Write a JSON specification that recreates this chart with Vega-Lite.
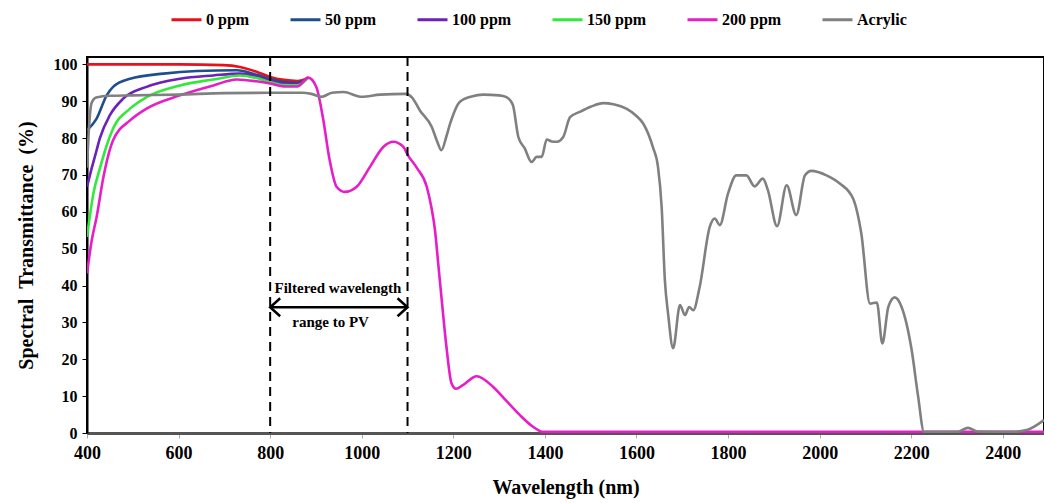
{
  "$schema": "https://vega.github.io/schema/vega-lite/v6.json",
  "width": 957,
  "height": 376,
  "autosize": {"type": "none"},
  "padding": {"left": 87, "top": 57, "right": 0, "bottom": 70},
  "background": "white",
  "config": {
    "view": {"stroke": "black", "strokeWidth": 2},
    "font": "Liberation Serif",
    "axis": {"labelFont": "Liberation Serif", "titleFont": "Liberation Serif"},
    "axisY": {"tickCount": 11, "labelOverlap": false},
    "axisX": {"labelFlush": false, "labelOverlap": false},
    "legend": {"labelFont": "Liberation Serif"},
    "text": {"font": "Liberation Serif"}
  },
  "datasets": {
    "curves": [
      {"series": "0 ppm", "nm": 400, "T": 100},
      {"series": "0 ppm", "nm": 600, "T": 100},
      {"series": "0 ppm", "nm": 697, "T": 99.8},
      {"series": "0 ppm", "nm": 734, "T": 99.3},
      {"series": "0 ppm", "nm": 770, "T": 98},
      {"series": "0 ppm", "nm": 800, "T": 96.6},
      {"series": "0 ppm", "nm": 830, "T": 95.8},
      {"series": "0 ppm", "nm": 860, "T": 95.5},
      {"series": "0 ppm", "nm": 883, "T": 96.4},
      {"series": "50 ppm", "nm": 400, "T": 82.1},
      {"series": "50 ppm", "nm": 421, "T": 85.3},
      {"series": "50 ppm", "nm": 443, "T": 91.6},
      {"series": "50 ppm", "nm": 457, "T": 93.9},
      {"series": "50 ppm", "nm": 494, "T": 96.1},
      {"series": "50 ppm", "nm": 567, "T": 97.5},
      {"series": "50 ppm", "nm": 640, "T": 98.2},
      {"series": "50 ppm", "nm": 727, "T": 98.4},
      {"series": "50 ppm", "nm": 770, "T": 97.2},
      {"series": "50 ppm", "nm": 800, "T": 96},
      {"series": "50 ppm", "nm": 830, "T": 95.2},
      {"series": "50 ppm", "nm": 860, "T": 95},
      {"series": "50 ppm", "nm": 883, "T": 96.4},
      {"series": "100 ppm", "nm": 400, "T": 66.8},
      {"series": "100 ppm", "nm": 410, "T": 71.7},
      {"series": "100 ppm", "nm": 421, "T": 76.7},
      {"series": "100 ppm", "nm": 428, "T": 79.9},
      {"series": "100 ppm", "nm": 450, "T": 86.2},
      {"series": "100 ppm", "nm": 479, "T": 90.7},
      {"series": "100 ppm", "nm": 530, "T": 93.9},
      {"series": "100 ppm", "nm": 603, "T": 96.1},
      {"series": "100 ppm", "nm": 676, "T": 97},
      {"series": "100 ppm", "nm": 734, "T": 97.5},
      {"series": "100 ppm", "nm": 770, "T": 96.8},
      {"series": "100 ppm", "nm": 800, "T": 95.6},
      {"series": "100 ppm", "nm": 830, "T": 94.8},
      {"series": "100 ppm", "nm": 860, "T": 94.6},
      {"series": "100 ppm", "nm": 883, "T": 96.4},
      {"series": "150 ppm", "nm": 400, "T": 53.2},
      {"series": "150 ppm", "nm": 414, "T": 65},
      {"series": "150 ppm", "nm": 428, "T": 71.7},
      {"series": "150 ppm", "nm": 443, "T": 78},
      {"series": "150 ppm", "nm": 457, "T": 82.6},
      {"series": "150 ppm", "nm": 494, "T": 88},
      {"series": "150 ppm", "nm": 530, "T": 91.1},
      {"series": "150 ppm", "nm": 603, "T": 94.3},
      {"series": "150 ppm", "nm": 676, "T": 95.9},
      {"series": "150 ppm", "nm": 734, "T": 97},
      {"series": "150 ppm", "nm": 770, "T": 96.3},
      {"series": "150 ppm", "nm": 800, "T": 95.2},
      {"series": "150 ppm", "nm": 830, "T": 94.4},
      {"series": "150 ppm", "nm": 860, "T": 94.3},
      {"series": "150 ppm", "nm": 883, "T": 96.4},
      {"series": "200 ppm", "nm": 400, "T": 43.3},
      {"series": "200 ppm", "nm": 410, "T": 52},
      {"series": "200 ppm", "nm": 421, "T": 58.6},
      {"series": "200 ppm", "nm": 436, "T": 69.5},
      {"series": "200 ppm", "nm": 457, "T": 79.4},
      {"series": "200 ppm", "nm": 494, "T": 84.8},
      {"series": "200 ppm", "nm": 530, "T": 88},
      {"series": "200 ppm", "nm": 603, "T": 91.6},
      {"series": "200 ppm", "nm": 676, "T": 94.3},
      {"series": "200 ppm", "nm": 727, "T": 95.9},
      {"series": "200 ppm", "nm": 770, "T": 95.4},
      {"series": "200 ppm", "nm": 800, "T": 94.8},
      {"series": "200 ppm", "nm": 830, "T": 94},
      {"series": "200 ppm", "nm": 860, "T": 94},
      {"series": "200 ppm", "nm": 883, "T": 96.4},
      {"series": "200 ppm", "nm": 901, "T": 93.8},
      {"series": "200 ppm", "nm": 915, "T": 85.7},
      {"series": "200 ppm", "nm": 930, "T": 74},
      {"series": "200 ppm", "nm": 945, "T": 66.8},
      {"series": "200 ppm", "nm": 963, "T": 65.4},
      {"series": "200 ppm", "nm": 989, "T": 66.8},
      {"series": "200 ppm", "nm": 1018, "T": 72.2},
      {"series": "200 ppm", "nm": 1047, "T": 77.6},
      {"series": "200 ppm", "nm": 1069, "T": 79},
      {"series": "200 ppm", "nm": 1091, "T": 77.6},
      {"series": "200 ppm", "nm": 1101, "T": 75.3},
      {"series": "200 ppm", "nm": 1120, "T": 72},
      {"series": "200 ppm", "nm": 1142, "T": 66.8},
      {"series": "200 ppm", "nm": 1152, "T": 61.3},
      {"series": "200 ppm", "nm": 1160, "T": 55},
      {"series": "200 ppm", "nm": 1167, "T": 46},
      {"series": "200 ppm", "nm": 1174, "T": 37},
      {"series": "200 ppm", "nm": 1185, "T": 23.4},
      {"series": "200 ppm", "nm": 1196, "T": 13.5},
      {"series": "200 ppm", "nm": 1206, "T": 12},
      {"series": "200 ppm", "nm": 1221, "T": 13},
      {"series": "200 ppm", "nm": 1251, "T": 15.4},
      {"series": "200 ppm", "nm": 1287, "T": 12.5},
      {"series": "200 ppm", "nm": 1316, "T": 8.7},
      {"series": "200 ppm", "nm": 1345, "T": 4.9},
      {"series": "200 ppm", "nm": 1374, "T": 1.7},
      {"series": "200 ppm", "nm": 1396, "T": 0.3},
      {"series": "200 ppm", "nm": 1500, "T": 0.3},
      {"series": "200 ppm", "nm": 2490, "T": 0.3},
      {"series": "Acrylic", "nm": 400, "T": 72},
      {"series": "Acrylic", "nm": 404, "T": 82},
      {"series": "Acrylic", "nm": 410, "T": 89.5},
      {"series": "Acrylic", "nm": 420, "T": 91},
      {"series": "Acrylic", "nm": 450, "T": 91.5},
      {"series": "Acrylic", "nm": 500, "T": 91.6},
      {"series": "Acrylic", "nm": 600, "T": 91.8},
      {"series": "Acrylic", "nm": 700, "T": 92.2},
      {"series": "Acrylic", "nm": 800, "T": 92.3},
      {"series": "Acrylic", "nm": 870, "T": 92.3},
      {"series": "Acrylic", "nm": 890, "T": 92},
      {"series": "Acrylic", "nm": 912, "T": 91.2},
      {"series": "Acrylic", "nm": 935, "T": 92.3},
      {"series": "Acrylic", "nm": 960, "T": 92.5},
      {"series": "Acrylic", "nm": 1000, "T": 91.2},
      {"series": "Acrylic", "nm": 1040, "T": 91.8},
      {"series": "Acrylic", "nm": 1095, "T": 92},
      {"series": "Acrylic", "nm": 1110, "T": 91},
      {"series": "Acrylic", "nm": 1127, "T": 87.5},
      {"series": "Acrylic", "nm": 1153, "T": 83},
      {"series": "Acrylic", "nm": 1165, "T": 79},
      {"series": "Acrylic", "nm": 1174, "T": 76.7},
      {"series": "Acrylic", "nm": 1185, "T": 80.5},
      {"series": "Acrylic", "nm": 1193, "T": 83.9},
      {"series": "Acrylic", "nm": 1214, "T": 89.8},
      {"series": "Acrylic", "nm": 1240, "T": 91.3},
      {"series": "Acrylic", "nm": 1265, "T": 91.8},
      {"series": "Acrylic", "nm": 1300, "T": 91.6},
      {"series": "Acrylic", "nm": 1316, "T": 91.1},
      {"series": "Acrylic", "nm": 1330, "T": 89},
      {"series": "Acrylic", "nm": 1342, "T": 80.3},
      {"series": "Acrylic", "nm": 1356, "T": 77.2},
      {"series": "Acrylic", "nm": 1371, "T": 73.5},
      {"series": "Acrylic", "nm": 1382, "T": 74.9},
      {"series": "Acrylic", "nm": 1393, "T": 74.9},
      {"series": "Acrylic", "nm": 1404, "T": 79.6},
      {"series": "Acrylic", "nm": 1415, "T": 79.1},
      {"series": "Acrylic", "nm": 1426, "T": 79},
      {"series": "Acrylic", "nm": 1440, "T": 80.3},
      {"series": "Acrylic", "nm": 1455, "T": 85.7},
      {"series": "Acrylic", "nm": 1476, "T": 87.1},
      {"series": "Acrylic", "nm": 1500, "T": 88.5},
      {"series": "Acrylic", "nm": 1527, "T": 89.5},
      {"series": "Acrylic", "nm": 1550, "T": 89.2},
      {"series": "Acrylic", "nm": 1578, "T": 88},
      {"series": "Acrylic", "nm": 1600, "T": 86},
      {"series": "Acrylic", "nm": 1615, "T": 83.9},
      {"series": "Acrylic", "nm": 1636, "T": 77.5},
      {"series": "Acrylic", "nm": 1647, "T": 72.2},
      {"series": "Acrylic", "nm": 1655, "T": 61.3},
      {"series": "Acrylic", "nm": 1662, "T": 41.5},
      {"series": "Acrylic", "nm": 1669, "T": 32.4},
      {"series": "Acrylic", "nm": 1680, "T": 23},
      {"series": "Acrylic", "nm": 1695, "T": 34.7},
      {"series": "Acrylic", "nm": 1706, "T": 32},
      {"series": "Acrylic", "nm": 1715, "T": 34.2},
      {"series": "Acrylic", "nm": 1724, "T": 33.3},
      {"series": "Acrylic", "nm": 1738, "T": 39.6},
      {"series": "Acrylic", "nm": 1760, "T": 55.9},
      {"series": "Acrylic", "nm": 1771, "T": 58.2},
      {"series": "Acrylic", "nm": 1782, "T": 56.4},
      {"series": "Acrylic", "nm": 1800, "T": 65},
      {"series": "Acrylic", "nm": 1818, "T": 69.9},
      {"series": "Acrylic", "nm": 1840, "T": 69.9},
      {"series": "Acrylic", "nm": 1858, "T": 66.9},
      {"series": "Acrylic", "nm": 1876, "T": 69},
      {"series": "Acrylic", "nm": 1887, "T": 65.9},
      {"series": "Acrylic", "nm": 1907, "T": 56.1},
      {"series": "Acrylic", "nm": 1928, "T": 67.2},
      {"series": "Acrylic", "nm": 1949, "T": 59.1},
      {"series": "Acrylic", "nm": 1968, "T": 69.9},
      {"series": "Acrylic", "nm": 1982, "T": 71.1},
      {"series": "Acrylic", "nm": 2015, "T": 69.9},
      {"series": "Acrylic", "nm": 2044, "T": 67.7},
      {"series": "Acrylic", "nm": 2073, "T": 63.6},
      {"series": "Acrylic", "nm": 2091, "T": 54.1},
      {"series": "Acrylic", "nm": 2110, "T": 35.1},
      {"series": "Acrylic", "nm": 2125, "T": 35.4},
      {"series": "Acrylic", "nm": 2137, "T": 24.3},
      {"series": "Acrylic", "nm": 2150, "T": 34.2},
      {"series": "Acrylic", "nm": 2164, "T": 36.8},
      {"series": "Acrylic", "nm": 2179, "T": 34.2},
      {"series": "Acrylic", "nm": 2201, "T": 22.5},
      {"series": "Acrylic", "nm": 2215, "T": 10},
      {"series": "Acrylic", "nm": 2228, "T": 0.3},
      {"series": "Acrylic", "nm": 2300, "T": 0.3},
      {"series": "Acrylic", "nm": 2324, "T": 1.4},
      {"series": "Acrylic", "nm": 2345, "T": 0.4},
      {"series": "Acrylic", "nm": 2420, "T": 0.3},
      {"series": "Acrylic", "nm": 2452, "T": 0.8},
      {"series": "Acrylic", "nm": 2490, "T": 3.5}
    ],
    "bounds": [{"nm": 800}, {"nm": 1100}],
    "arrow": [{"from": 800, "to": 1100, "T": 34.1}],
    "heads": [
      {"nm": 800, "T": 34.1, "side": "left"},
      {"nm": 1100, "T": 34.1, "side": "right"}
    ],
    "notes": [
      {"nm": 948, "T": 39.4, "label": "Filtered wavelength"},
      {"nm": 932, "T": 30.0, "label": "range to PV"}
    ]
  },
  "layer": [
    {
      "data": {"name": "curves"},
      "mark": {"type": "line", "interpolate": "monotone", "strokeWidth": 2.6, "clip": true},
      "encoding": {
        "x": {
          "field": "nm", "type": "quantitative",
          "scale": {"domain": [400, 2490], "nice": false, "zero": false},
          "axis": {
            "values": [400, 600, 800, 1000, 1200, 1400, 1600, 1800, 2000, 2200, 2400],
            "format": "d",
            "labelOverlap": false,
            "labelFlush": false,
            "title": "Wavelength (nm)",
            "titleFont": "Liberation Serif", "titleFontSize": 20, "titleFontWeight": "bold", "titleColor": "black",
            "titlePadding": 15,
            "labelFont": "Liberation Serif", "labelFontSize": 18, "labelFontWeight": "bold", "labelColor": "black",
            "labelPadding": 6,
            "domainColor": "#555555", "domainWidth": 3,
            "tickColor": "#aaaaaa", "tickSize": 5,
            "grid": false
          }
        },
        "y": {
          "field": "T", "type": "quantitative",
          "scale": {"domain": [0, 102], "nice": false},
          "axis": {
            "values": [0, 10, 20, 30, 40, 50, 60, 70, 80, 90, 100],
            "format": "d",
            "labelOverlap": false,
            "tickCount": 11,
            "title": "Spectral\u00a0\u00a0Transmittance\u00a0\u00a0(%)",
            "titleFont": "Liberation Serif", "titleFontSize": 20, "titleFontWeight": "bold", "titleColor": "black",
            "titlePadding": 17,
            "labelFont": "Liberation Serif", "labelFontSize": 16, "labelFontWeight": "bold", "labelColor": "black",
            "labelPadding": 5,
            "domainColor": "black", "domainWidth": 2,
            "tickColor": "black", "tickSize": 5,
            "grid": false
          }
        },
        "color": {
          "field": "series", "type": "nominal",
          "scale": {
            "domain": ["0 ppm", "50 ppm", "100 ppm", "150 ppm", "200 ppm", "Acrylic"],
            "range": ["#e8101a", "#1f4e8c", "#6a22b8", "#33e83a", "#e61ec8", "#808080"]
          },
          "legend": {
            "title": null,
            "orient": "none",
            "direction": "horizontal",
            "legendX": 83,
            "legendY": -54,
            "symbolType": "stroke",
            "symbolSize": 900,
            "symbolStrokeWidth": 3,
            "labelFont": "Liberation Serif", "labelFontSize": 16, "labelFontWeight": "bold", "labelColor": "black",
            "labelOffset": 3,
            "columnPadding": 34
          }
        },
        "order": {"field": "series"}
      }
    },
    {
      "data": {"name": "bounds"},
      "mark": {"type": "rule", "color": "black", "strokeWidth": 2, "strokeDash": [9, 6]},
      "encoding": {"x": {"field": "nm", "type": "quantitative"}}
    },
    {
      "data": {"name": "arrow"},
      "mark": {"type": "rule", "color": "black", "strokeWidth": 2.5},
      "encoding": {
        "x": {"field": "from", "type": "quantitative"},
        "x2": {"field": "to"},
        "y": {"field": "T", "type": "quantitative"}
      }
    },
    {
      "data": {"name": "heads"},
      "transform": [{"filter": "datum.side === 'left'"}],
      "mark": {"type": "point", "shape": "M 1 -0.9 L 0 0 L 1 0.9", "filled": false, "size": 400, "stroke": "black", "strokeWidth": 2.5, "opacity": 1},
      "encoding": {
        "x": {"field": "nm", "type": "quantitative"},
        "y": {"field": "T", "type": "quantitative"}
      }
    },
    {
      "data": {"name": "heads"},
      "transform": [{"filter": "datum.side === 'right'"}],
      "mark": {"type": "point", "shape": "M -1 -0.9 L 0 0 L -1 0.9", "filled": false, "size": 400, "stroke": "black", "strokeWidth": 2.5, "opacity": 1},
      "encoding": {
        "x": {"field": "nm", "type": "quantitative"},
        "y": {"field": "T", "type": "quantitative"}
      }
    },
    {
      "data": {"name": "notes"},
      "mark": {"type": "text", "font": "Liberation Serif", "fontSize": 15, "fontWeight": "bold", "color": "black"},
      "encoding": {
        "x": {"field": "nm", "type": "quantitative"},
        "y": {"field": "T", "type": "quantitative"},
        "text": {"field": "label"}
      }
    }
  ]
}
